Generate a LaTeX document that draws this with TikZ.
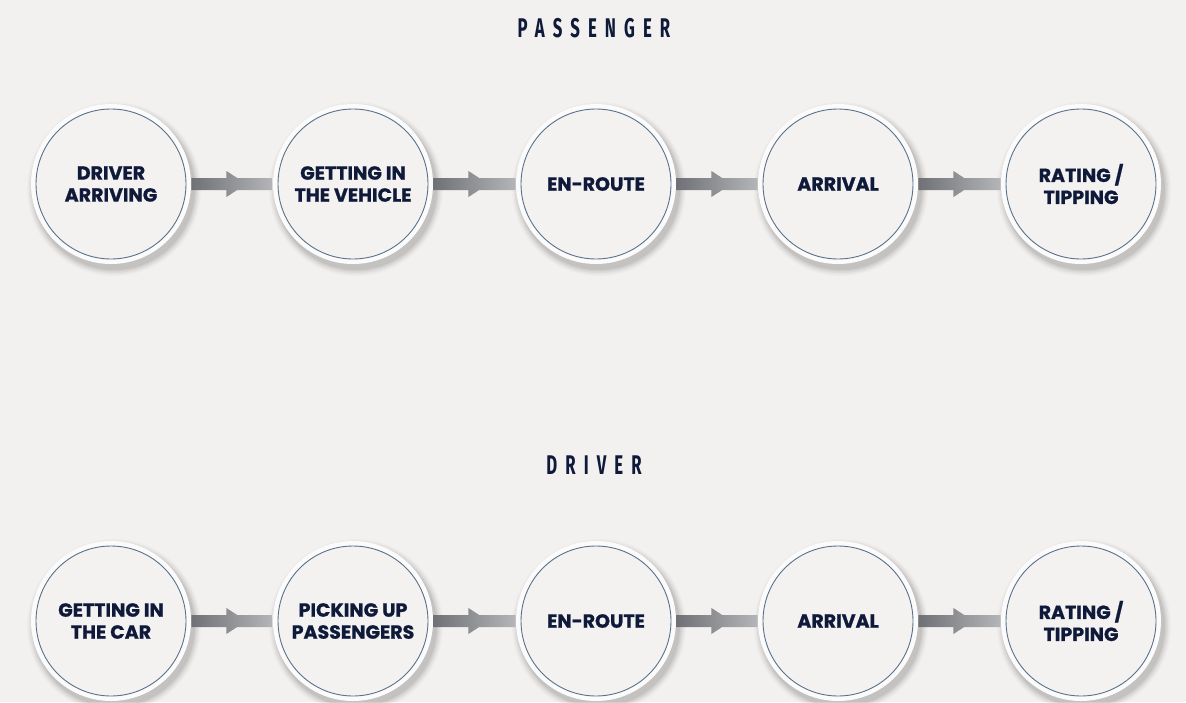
\documentclass[tikz,border=0pt]{standalone}
\usepackage{fontspec}
\setmainfont{Poppins}[BoldFont={* Bold},BoldFeatures={FakeBold=1}]
\newfontfamily\titlefont{Fira Sans}[UprightFont={* Bold},FakeStretch=0.62,LetterSpace=30]
\usetikzlibrary{calc}
\definecolor{bg}{HTML}{F2F1EF}
\definecolor{disc}{HTML}{F3F2F0}
\definecolor{rim}{HTML}{5A718A}
\definecolor{navy}{HTML}{0F1A3A}
\definecolor{arrowdark}{HTML}{707176}
\definecolor{arrowlight}{HTML}{B4B5B8}
\tikzset{
  stage/.style={circle,draw=rim,line width=0.9pt,fill=disc,minimum size=150pt,inner sep=0pt,
    align=center,font=\bfseries\fontsize{19}{22}\selectfont,text=navy},
  ring/.style={circle,fill=white!75!bg,minimum size=160pt,inner sep=0pt},
  heading/.style={font=\titlefont\fontsize{27}{27}\selectfont,text=navy},
  flow/.style={left color=arrowdark,right color=arrowlight}
}
\newcommand{\stagedisc}[4]{%
  \foreach \k/\op in {14/0.02,11/0.03,8/0.04,5/0.05,2/0.06}{
    \fill[black,opacity=\op] (#2pt+3pt,-#3pt-5pt) circle ({80pt+\k*0.5pt});
  }
  \node[ring] (#1r) at (#2pt,-#3pt) {};
  \node[stage] (#1) at (#2pt,-#3pt) {#4};
}
\newcommand{\flowarrow}[2]{%
  \path[flow] ([shift={(5pt,6pt)}]#1.east) -- ([shift={(40pt,6pt)}]#1.east)
    -- ([shift={(40pt,13pt)}]#1.east) -- ([shift={(50.77pt,6pt)}]#1.east)
    -- ([shift={(-5pt,6pt)}]#2.west) -- ([shift={(-5pt,-6pt)}]#2.west)
    -- ([shift={(50.77pt,-6pt)}]#1.east) -- ([shift={(40pt,-13pt)}]#1.east)
    -- ([shift={(40pt,-6pt)}]#1.east) -- ([shift={(5pt,-6pt)}]#1.east) -- cycle;
}
\begin{document}
\begin{tikzpicture}
\fill[bg] (0,0) rectangle (1186pt,-702pt);
\useasboundingbox (0,0) rectangle (1186pt,-702pt);
\node[heading] (ptitle) at (594pt,-28pt) {PASSENGER};
\node[heading] (dtitle) at (594pt,-465pt) {DRIVER};
\stagedisc{p1}{111}{184}{DRIVER\\ARRIVING}
\stagedisc{p2}{353}{184}{GETTING IN\\THE VEHICLE}
\stagedisc{p3}{596}{184}{EN-ROUTE}
\stagedisc{p4}{838}{184}{ARRIVAL}
\stagedisc{p5}{1081}{184}{RATING /\\TIPPING}
\flowarrow{p1}{p2}
\flowarrow{p2}{p3}
\flowarrow{p3}{p4}
\flowarrow{p4}{p5}
\stagedisc{d1}{111}{621}{GETTING IN\\THE CAR}
\stagedisc{d2}{353}{621}{PICKING UP\\PASSENGERS}
\stagedisc{d3}{596}{621}{EN-ROUTE}
\stagedisc{d4}{838}{621}{ARRIVAL}
\stagedisc{d5}{1081}{621}{RATING /\\TIPPING}
\flowarrow{d1}{d2}
\flowarrow{d2}{d3}
\flowarrow{d3}{d4}
\flowarrow{d4}{d5}
\end{tikzpicture}
\end{document}
